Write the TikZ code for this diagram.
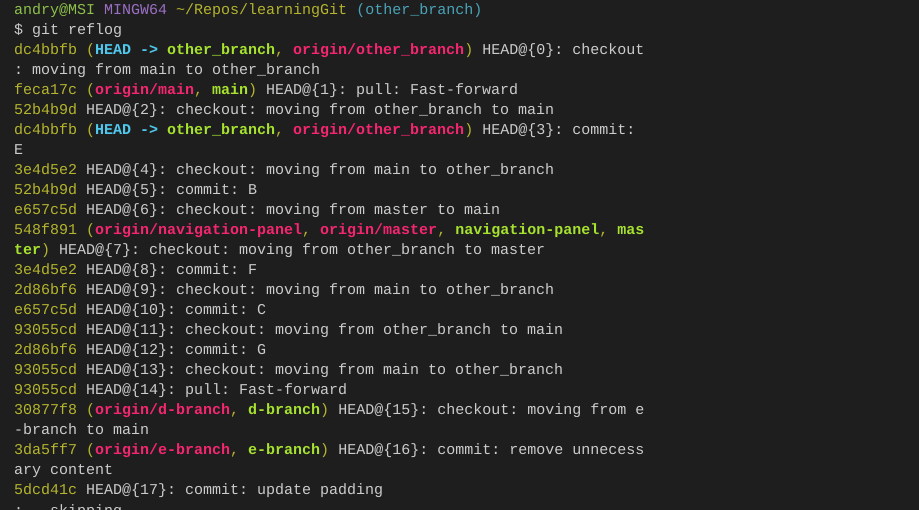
\documentclass[tikz,border=0pt]{standalone}
\usepackage{fontspec}
\setmonofont{Liberation Mono}
\definecolor{bg}{HTML}{1E1E1E}
\definecolor{fg}{HTML}{CCCCCC}
\definecolor{hy}{HTML}{B5B52E}
\definecolor{hc}{HTML}{4FC8EE}
\definecolor{hg}{HTML}{A6E22E}
\definecolor{hr}{HTML}{F5266F}
\definecolor{pg}{HTML}{8DC149}
\definecolor{pp}{HTML}{9B6FC4}
\definecolor{pt}{HTML}{4AA3B8}
\newcommand{\hs}[1]{\textcolor{hy}{#1}}
\newcommand{\HD}{\textcolor{hc}{\bfseries HEAD}}
\newcommand{\GR}[1]{\textcolor{hg}{\bfseries #1}}
\newcommand{\RD}[1]{\textcolor{hr}{\bfseries #1}}
\newcommand{\Py}[1]{\textcolor{hy}{#1}}
\tikzset{ln/.style={anchor=base west,inner sep=0pt,text=fg,font=\ttfamily\fontsize{15}{15}\selectfont}}
\begin{document}
\begin{tikzpicture}[x=1pt,y=-1pt]
\fill[bg] (0,0) rectangle (919,510);
\clip (0,0) rectangle (919,510);
\useasboundingbox (0,0) rectangle (919,510);
\node[ln] (l0) at (14,15) {\textcolor{pg}{andry@MSI} \textcolor{pp}{MINGW64} \textcolor{hy}{\textasciitilde/Repos/learningGit} \textcolor{pt}{(other\_branch)}};
\node[ln] (l1) at (14,35) {\$ git reflog};
\node[ln] (l2) at (14,55) {\hs{dc4bbfb} \Py{(}\HD\ \textcolor{hc}{\bfseries ->} \GR{other\_branch}\Py{,} \RD{origin/other\_branch}\Py{)} HEAD@\{0\}: checkout};
\node[ln] (l3) at (14,75) {: moving from main to other\_branch};
\node[ln] (l4) at (14,95) {\hs{feca17c} \Py{(}\RD{origin/main}\Py{,} \GR{main}\Py{)} HEAD@\{1\}: pull: Fast-forward};
\node[ln] (l5) at (14,115) {\hs{52b4b9d} HEAD@\{2\}: checkout: moving from other\_branch to main};
\node[ln] (l6) at (14,135) {\hs{dc4bbfb} \Py{(}\HD\ \textcolor{hc}{\bfseries ->} \GR{other\_branch}\Py{,} \RD{origin/other\_branch}\Py{)} HEAD@\{3\}: commit:};
\node[ln] (l7) at (14,155) {E};
\node[ln] (l8) at (14,175) {\hs{3e4d5e2} HEAD@\{4\}: checkout: moving from main to other\_branch};
\node[ln] (l9) at (14,195) {\hs{52b4b9d} HEAD@\{5\}: commit: B};
\node[ln] (l10) at (14,215) {\hs{e657c5d} HEAD@\{6\}: checkout: moving from master to main};
\node[ln] (l11) at (14,235) {\hs{548f891} \Py{(}\RD{origin/navigation-panel}\Py{,} \RD{origin/master}\Py{,} \GR{navigation-panel}\Py{,} \GR{mas}};
\node[ln] (l12) at (14,255) {\GR{ter}\Py{)} HEAD@\{7\}: checkout: moving from other\_branch to master};
\node[ln] (l13) at (14,275) {\hs{3e4d5e2} HEAD@\{8\}: commit: F};
\node[ln] (l14) at (14,295) {\hs{2d86bf6} HEAD@\{9\}: checkout: moving from main to other\_branch};
\node[ln] (l15) at (14,315) {\hs{e657c5d} HEAD@\{10\}: commit: C};
\node[ln] (l16) at (14,335) {\hs{93055cd} HEAD@\{11\}: checkout: moving from other\_branch to main};
\node[ln] (l17) at (14,355) {\hs{2d86bf6} HEAD@\{12\}: commit: G};
\node[ln] (l18) at (14,375) {\hs{93055cd} HEAD@\{13\}: checkout: moving from main to other\_branch};
\node[ln] (l19) at (14,395) {\hs{93055cd} HEAD@\{14\}: pull: Fast-forward};
\node[ln] (l20) at (14,415) {\hs{30877f8} \Py{(}\RD{origin/d-branch}\Py{,} \GR{d-branch}\Py{)} HEAD@\{15\}: checkout: moving from e};
\node[ln] (l21) at (14,435) {-branch to main};
\node[ln] (l22) at (14,455) {\hs{3da5ff7} \Py{(}\RD{origin/e-branch}\Py{,} \GR{e-branch}\Py{)} HEAD@\{16\}: commit: remove unnecess};
\node[ln] (l23) at (14,475) {ary content};
\node[ln] (l24) at (14,495) {\hs{5dcd41c} HEAD@\{17\}: commit: update padding};
\node[ln] (l25) at (14,516) {:...skipping};
\end{tikzpicture}
\end{document}
